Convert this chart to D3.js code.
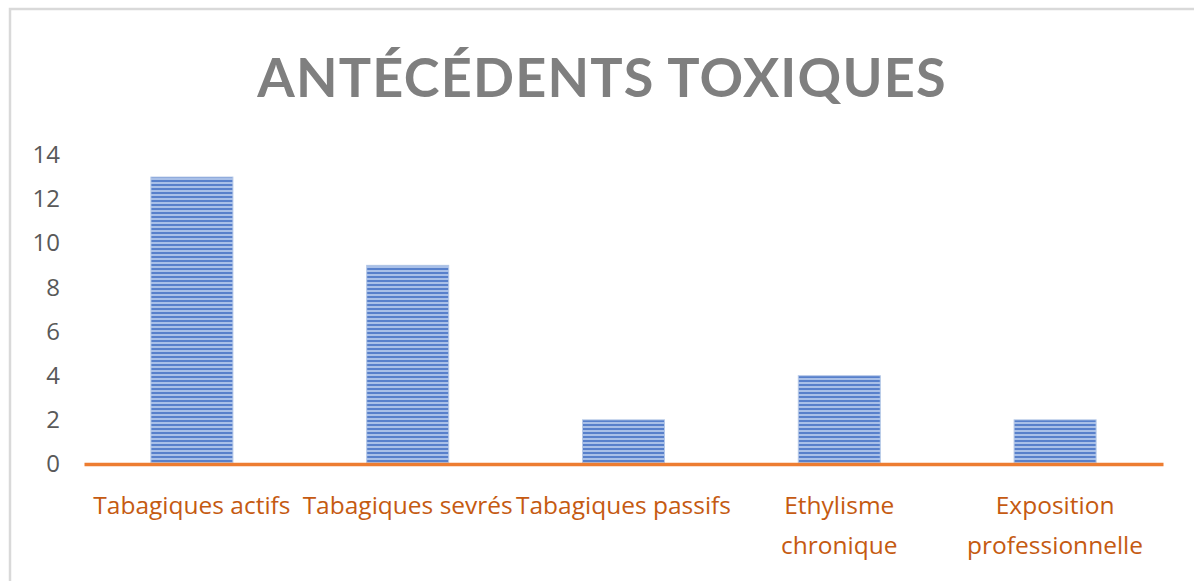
<!DOCTYPE html>
<html>
<head>
<meta charset="utf-8">
<script src="https://cdn.jsdelivr.net/npm/d3@7"></script>
<style>
  body { margin: 0; background: #fff; }
  svg { display: block; }
</style>
</head>
<body>
<div id="chart"></div>
<script>
var categories = [
  ['Tabagiques actifs'],
  ['Tabagiques sevrés'],
  ['Tabagiques passifs'],
  ['Ethylisme', 'chronique'],
  ['Exposition', 'professionnelle']
];
var values = [13, 9, 2, 4, 2];
var yTicks = [0, 2, 4, 6, 8, 10, 12, 14];
var title = 'ANTÉCÉDENTS TOXIQUES';

var width = 1194;
var height = 581;
var margin = { top: 155, bottom: 117, left: 84, right: 31 };

var svg = d3.select('#chart')
  .append('svg')
  .attr('width', width)
  .attr('height', height);

// striped fill for the bars
var defs = svg.append('defs');
var pat = defs.append('pattern')
  .attr('id', 'stripes')
  .attr('patternUnits', 'userSpaceOnUse')
  .attr('width', 8)
  .attr('height', 4);
pat.append('rect').attr('width', 8).attr('height', 4).attr('fill', '#a9c0e8');
pat.append('rect').attr('width', 8).attr('height', 2).attr('fill', '#5880cb');

// chart frame
svg.append('rect')
  .attr('x', 10)
  .attr('y', 9)
  .attr('width', width + 20)
  .attr('height', height + 20)
  .attr('fill', 'none')
  .attr('stroke', '#d9d9d9')
  .attr('stroke-width', 2.5);

var x = d3.scaleBand()
  .domain(d3.range(values.length))
  .range([margin.left, width - margin.right])
  .paddingInner(0.62)
  .paddingOuter(0.31);

var y = d3.scaleLinear()
  .domain([0, 14])
  .range([height - margin.bottom, margin.top]);

svg.append('text')
  .attr('x', 602)
  .attr('y', 97)
  .attr('text-anchor', 'middle')
  .attr('font-family', 'Lato, "Open Sans", sans-serif')
  .attr('font-weight', 'bold')
  .attr('font-size', '54px')
  .attr('letter-spacing', '1.2px')
  .attr('fill', '#7f7f7f')
  .text(title);

svg.append('g')
  .selectAll('rect')
  .data(values)
  .join('rect')
  .attr('x', (d, i) => x(i))
  .attr('y', d => y(d))
  .attr('width', x.bandwidth())
  .attr('height', d => y(0) - y(d))
  .attr('fill', 'url(#stripes)')
  .attr('stroke', '#b4c7e7')
  .attr('stroke-width', 1);

// y axis labels only, no line
var yAxis = svg.append('g')
  .attr('transform', `translate(${margin.left}, 0)`)
  .call(d3.axisLeft(y).tickValues(yTicks).tickSize(0).tickPadding(24));
yAxis.select('.domain').remove();
yAxis.selectAll('text')
  .attr('font-family', '"Open Sans", sans-serif')
  .attr('font-size', '24px')
  .attr('fill', '#595959');

// x axis: orange baseline and wrapped labels
var xAxis = svg.append('g')
  .attr('transform', `translate(0, ${y(0)})`)
  .call(d3.axisBottom(x).tickSize(0).tickFormat(''));
xAxis.select('.domain')
  .attr('stroke', '#ed7d31')
  .attr('stroke-width', 3.5);

svg.append('g')
  .selectAll('text')
  .data(categories)
  .join('text')
  .attr('x', (d, i) => x(i) + x.bandwidth() / 2)
  .attr('y', y(0) + 50)
  .attr('text-anchor', 'middle')
  .attr('font-family', '"Open Sans", sans-serif')
  .attr('font-size', '24.5px')
  .attr('fill', '#c55a11')
  .selectAll('tspan')
  .data(d => d)
  .join('tspan')
  .attr('x', function () { return this.parentNode.getAttribute('x'); })
  .attr('dy', (d, i) => i === 0 ? 0 : 40)
  .text(d => d);
</script>
</body>
</html>
